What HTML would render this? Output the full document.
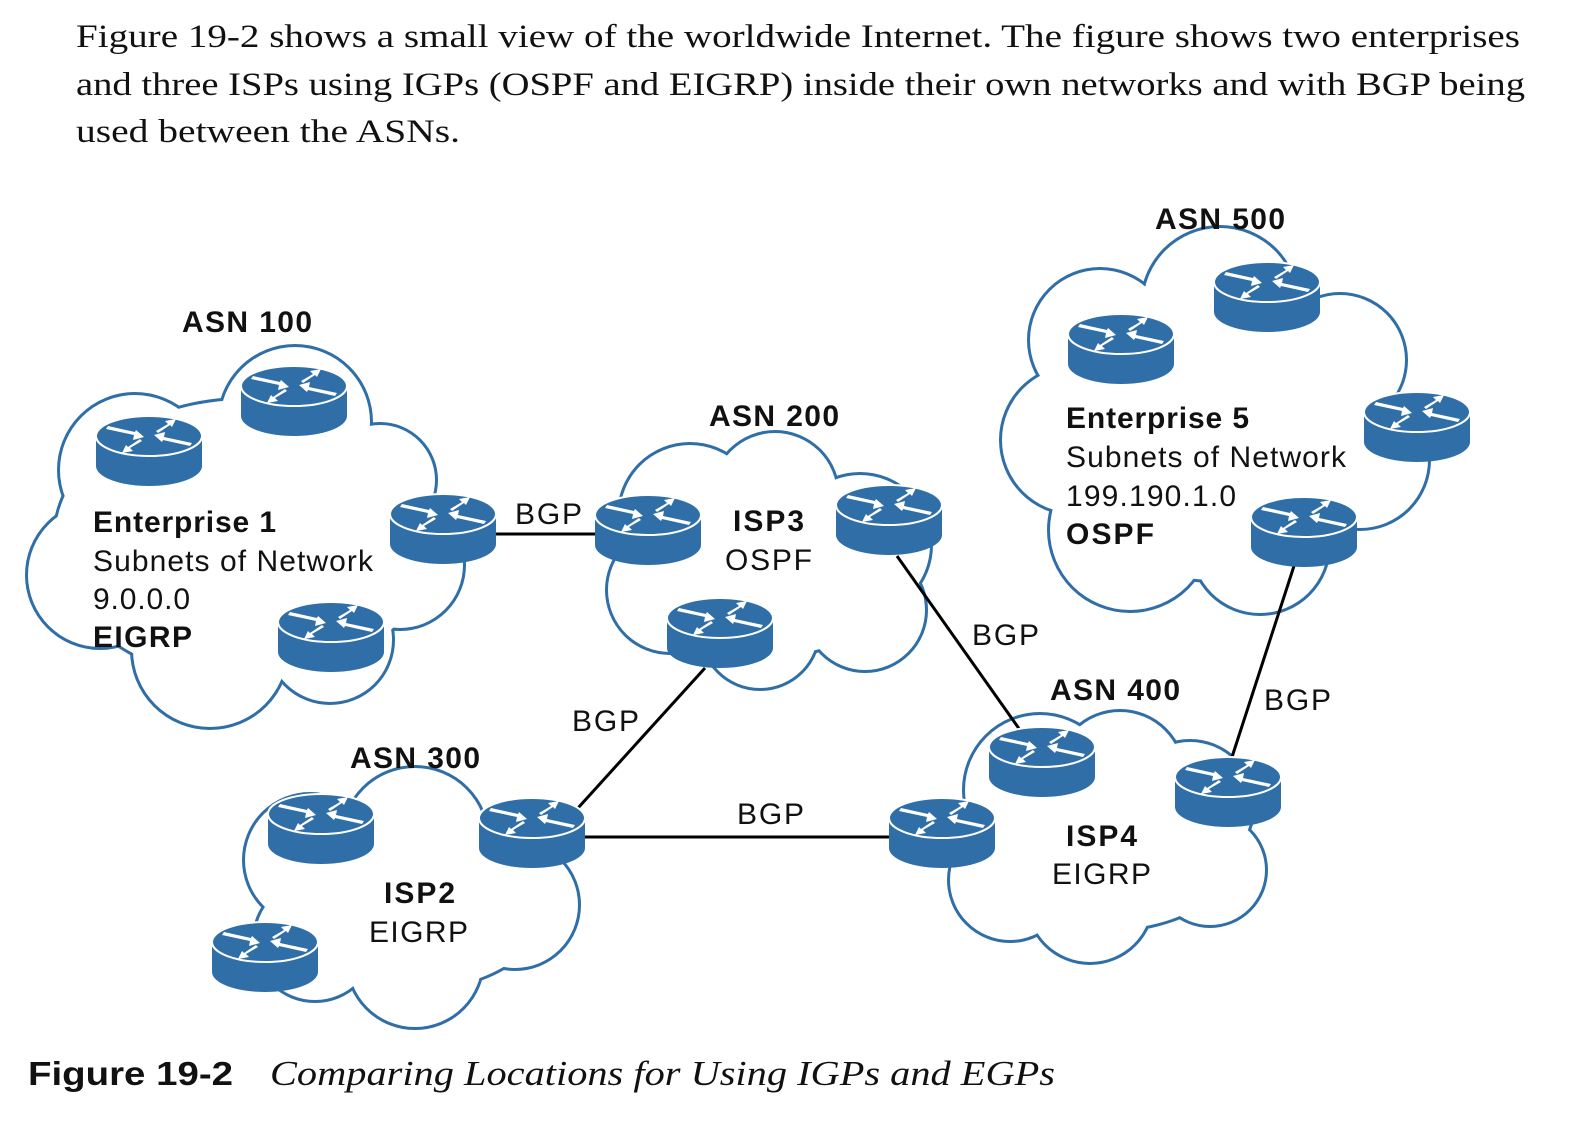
<!DOCTYPE html>
<html><head><meta charset="utf-8"><style>
html,body{margin:0;padding:0;background:#fff;}
svg{display:block}
.s{font-family:"Liberation Serif",serif;font-size:33px;fill:#111}
.b{font-family:"Liberation Sans",sans-serif;font-weight:bold;font-size:30px;fill:#111}
.n{font-family:"Liberation Sans",sans-serif;font-size:30px;fill:#111}
</style></head><body>
<svg width="1594" height="1126" viewBox="0 0 1594 1126" xmlns="http://www.w3.org/2000/svg">
<defs>
<g id="r">
 <path d="M0,20 L0,50 A53,20 0 0 0 106,50 L106,20 Z" fill="#2f6ea7"/>
 <ellipse cx="53" cy="20" rx="53" ry="20" fill="#2f6ea7" stroke="#fff" stroke-width="2"/>
 <g fill="#fff">
  <path d="M10,13 L38,19 L37,24 L48,21 L40,14 L39,16 L12,10Z"/>
  <path d="M96,27 L68,21 L69,16 L58,19 L66,26 L67,24 L94,30Z"/>
  <path d="M60,15 L72,8 L69,5 L80,3 L76,11 L74,9 L62,17Z"/>
  <path d="M46,25 L34,32 L37,35 L26,37 L30,29 L32,31 L44,23Z"/>
 </g>
</g>
<g id="c1"><circle cx="135" cy="470" r="75"/><circle cx="295" cy="422" r="75"/><circle cx="380" cy="480" r="55"/><circle cx="400" cy="565" r="63"/><circle cx="210" cy="650" r="77"/><circle cx="100" cy="575" r="72"/><circle cx="330" cy="640" r="62"/><ellipse cx="245" cy="540" rx="190" ry="140"/></g>
<g id="c2"><circle cx="310" cy="860" r="65"/><circle cx="415" cy="840" r="72"/><circle cx="515" cy="905" r="63"/><circle cx="415" cy="960" r="67"/><circle cx="315" cy="940" r="60"/><ellipse cx="410" cy="900" rx="140" ry="90"/></g>
<g id="c3"><circle cx="690" cy="515" r="70"/><circle cx="775" cy="495" r="62"/><circle cx="860" cy="545" r="70"/><circle cx="865" cy="610" r="60"/><circle cx="760" cy="630" r="58"/><circle cx="670" cy="590" r="62"/><ellipse cx="770" cy="565" rx="140" ry="90"/></g>
<g id="c4"><circle cx="1100" cy="340" r="70"/><circle cx="1220" cy="305" r="77"/><circle cx="1340" cy="360" r="65"/><circle cx="1360" cy="460" r="68"/><circle cx="1260" cy="545" r="68"/><circle cx="1130" cy="530" r="80"/><circle cx="1075" cy="440" r="73"/><ellipse cx="1215" cy="430" rx="170" ry="150"/></g>
<g id="c5"><circle cx="1040" cy="790" r="75"/><circle cx="1120" cy="775" r="63"/><circle cx="1190" cy="805" r="63"/><circle cx="1210" cy="870" r="55"/><circle cx="1090" cy="900" r="62"/><circle cx="1010" cy="880" r="60"/><ellipse cx="1105" cy="840" rx="140" ry="90"/></g>
</defs>
<text class="s" x="76" y="47" textLength="1444" lengthAdjust="spacingAndGlyphs">Figure 19-2 shows a small view of the worldwide Internet. The figure shows two enterprises</text>
<text class="s" x="76" y="95" textLength="1449" lengthAdjust="spacingAndGlyphs">and three ISPs using IGPs (OSPF and EIGRP) inside their own networks and with BGP being</text>
<text class="s" x="76" y="142" textLength="384" lengthAdjust="spacingAndGlyphs">used between the ASNs.</text>

<g fill="#fff" stroke="#2f6ea7" stroke-width="6">
<use href="#c1"/><use href="#c2"/><use href="#c3"/><use href="#c4"/><use href="#c5"/>
</g>
<g fill="#fff" stroke="none">
<use href="#c1"/><use href="#c2"/><use href="#c3"/><use href="#c4"/><use href="#c5"/>
</g>

<g stroke="#000" stroke-width="3">
<line x1="496" y1="534" x2="595" y2="534"/>
<line x1="897" y1="556" x2="1020" y2="730"/>
<line x1="705" y1="668" x2="578" y2="808"/>
<line x1="583" y1="837" x2="889" y2="837"/>
<line x1="1294" y1="566" x2="1232" y2="757"/>
</g>

<use href="#r" x="96" y="416"/><use href="#r" x="241" y="366"/><use href="#r" x="390" y="494"/><use href="#r" x="278" y="602"/>
<use href="#r" x="595" y="495"/><use href="#r" x="836" y="485"/><use href="#r" x="667" y="598"/>
<use href="#r" x="1068" y="314"/><use href="#r" x="1214" y="262"/><use href="#r" x="1364" y="392"/><use href="#r" x="1251" y="497"/>
<use href="#r" x="268" y="794"/><use href="#r" x="479" y="798"/><use href="#r" x="212" y="922"/>
<use href="#r" x="989" y="727"/><use href="#r" x="1175" y="757"/><use href="#r" x="889" y="798"/>

<text class="b" x="182" y="332" textLength="130">ASN 100</text>
<text class="b" x="709" y="426" textLength="130">ASN 200</text>
<text class="b" x="1155" y="229" textLength="130">ASN 500</text>
<text class="b" x="350" y="768" textLength="130">ASN 300</text>
<text class="b" x="1050" y="700" textLength="130">ASN 400</text>

<text class="b" x="93" y="532" textLength="183">Enterprise 1</text>
<text class="n" x="93" y="571" textLength="280">Subnets of Network</text>
<text class="n" x="93" y="609" textLength="97">9.0.0.0</text>
<text class="b" x="93" y="647" textLength="99">EIGRP</text>

<text class="b" x="733" y="531" textLength="71">ISP3</text>
<text class="n" x="725" y="570" textLength="87">OSPF</text>

<text class="b" x="1066" y="428" textLength="183">Enterprise 5</text>
<text class="n" x="1066" y="467" textLength="280">Subnets of Network</text>
<text class="n" x="1066" y="506" textLength="170">199.190.1.0</text>
<text class="b" x="1066" y="544" textLength="88">OSPF</text>

<text class="b" x="384" y="903" textLength="71">ISP2</text>
<text class="n" x="369" y="942" textLength="99">EIGRP</text>

<text class="b" x="1066" y="846" textLength="71">ISP4</text>
<text class="n" x="1052" y="884" textLength="99">EIGRP</text>

<text class="n" x="515" y="524" textLength="67">BGP</text>
<text class="n" x="972" y="645" textLength="67">BGP</text>
<text class="n" x="572" y="731" textLength="67">BGP</text>
<text class="n" x="737" y="824" textLength="67">BGP</text>
<text class="n" x="1264" y="710" textLength="67">BGP</text>

<text x="28" y="1085" font-family="Liberation Sans,sans-serif" font-weight="bold" font-size="33" fill="#111" textLength="205" lengthAdjust="spacingAndGlyphs">Figure 19-2</text>
<text x="270" y="1085" font-family="Liberation Serif,serif" font-style="italic" font-size="35" fill="#111" textLength="785" lengthAdjust="spacingAndGlyphs">Comparing Locations for Using IGPs and EGPs</text>
</svg>
</body></html>
